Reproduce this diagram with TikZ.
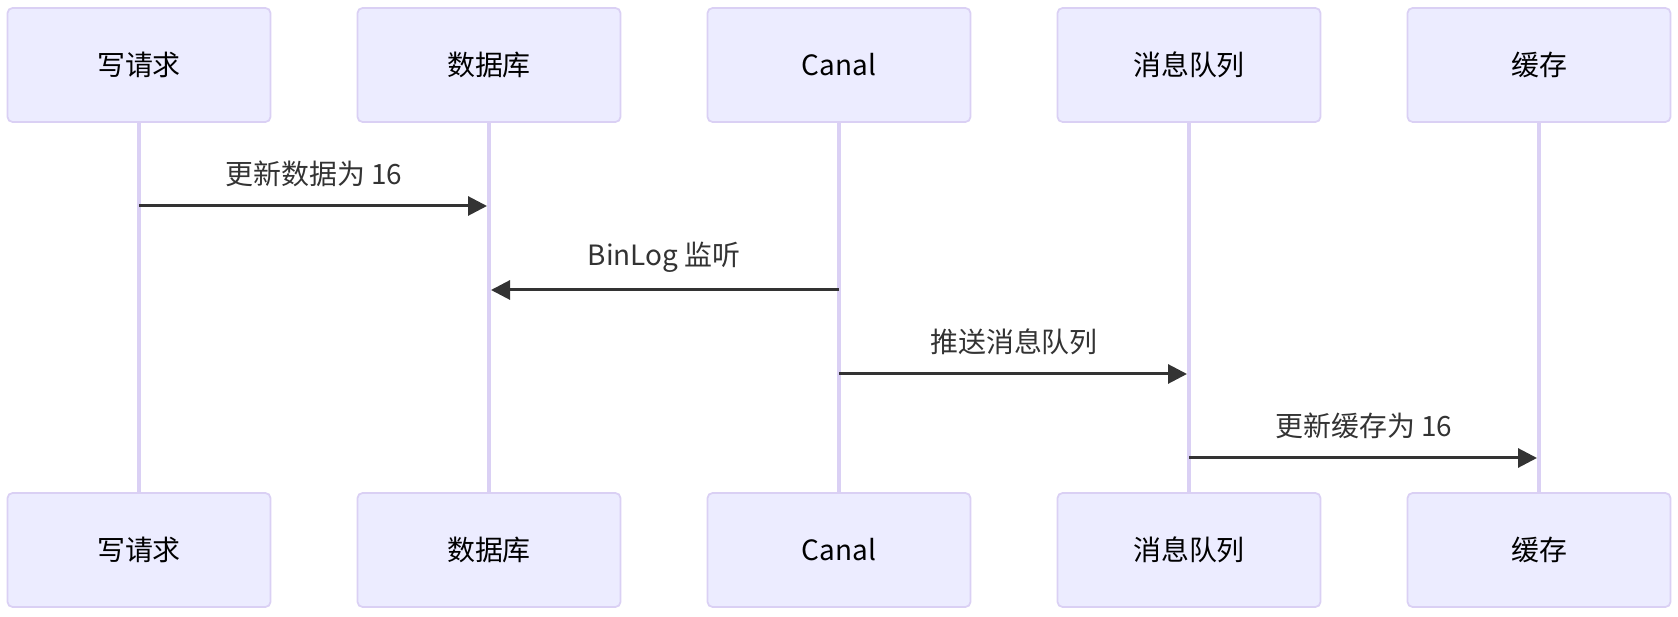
\documentclass[tikz,border=0pt]{standalone}
\usepackage{fontspec}
\setmainfont{Noto Sans CJK SC}
\usepackage{xcolor}
\usepackage{tikz}
\usetikzlibrary{arrows.meta}

\definecolor{actorfill}{HTML}{ECECFF}
\definecolor{actorline}{HTML}{DAD0F4}
\definecolor{msgline}{HTML}{333333}

\begin{document}
\begin{tikzpicture}[
  x=0.02cm, y=-0.02cm,
  actor/.style={rectangle, rounded corners=0.1cm, draw=actorline,
                fill=actorfill, line width=0.035cm, minimum width=5.26cm,
                minimum height=2.28cm, inner sep=0pt,
                font=\fontsize{15.9}{19}\selectfont},
  life/.style={draw=actorline, line width=0.07cm},
  msg/.style={draw=msgline, line width=0.06cm, shorten >=0.04cm,
              -{Triangle[length=0.38cm, width=0.38cm]}},
  msglabel/.style={font=\fontsize{15.9}{19}\selectfont, text=msgline,
                   inner sep=0pt},
]

\useasboundingbox (0,0) rectangle (1678,617);

\def\firstX{139} % x of first lifeline
\def\stepX{350}  % spacing of lifelines

% --- Participants, top and bottom, with lifelines ---
\foreach \i/\lbl in {1/写请求, 2/数据库, 3/Canal, 4/消息队列, 5/缓存}{
  \pgfmathsetmacro\xpos{\firstX+(\i-1)*\stepX}
  \node[actor] (T\i) at (\xpos,65) {\lbl};
  \node[actor] (B\i) at (\xpos,550) {\lbl};
  \draw[life] (T\i) -- (B\i);
}

% --- Messages ---
\foreach \src/\dst/\ypos/\lbl [count=\k] in {
    1/2/206/更新数据为 16,
    3/2/290/BinLog 监听,
    3/4/374/推送消息队列,
    4/5/458/更新缓存为 16}{
  \coordinate (s\k) at (T\src.south |- 0,\ypos);
  \coordinate (e\k) at (T\dst.south |- 0,\ypos);
  \draw[msg] (s\k) -- (e\k)
    node[msglabel, midway, yshift=0.65cm] (L\k) {\lbl};
}

\end{tikzpicture}
\end{document}
